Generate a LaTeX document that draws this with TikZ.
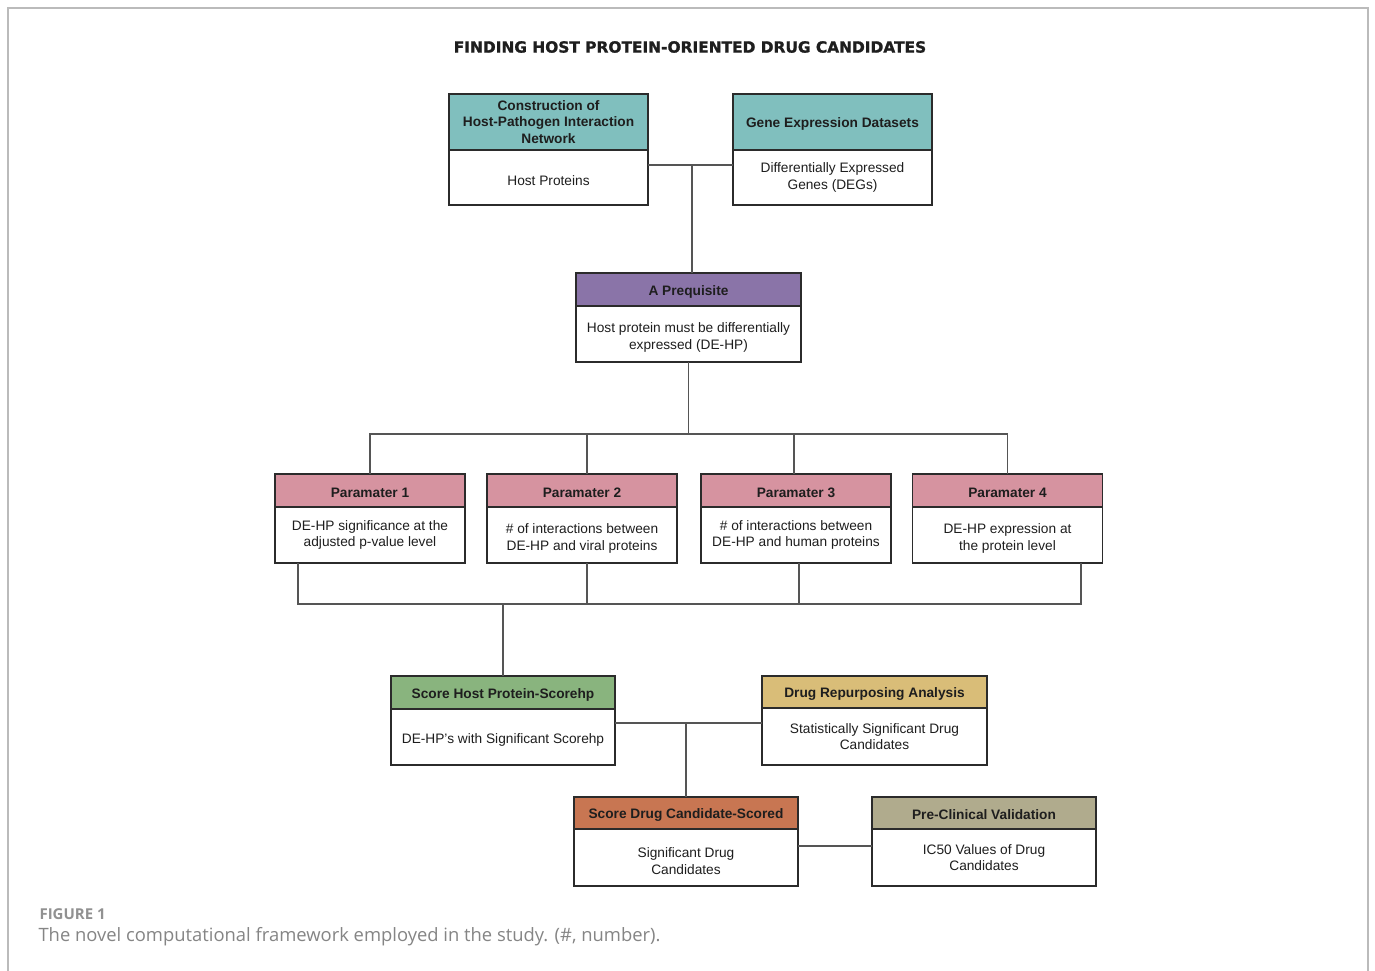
\documentclass[tikz,border=0pt]{standalone}
\usepackage{fontspec}
\setmainfont{Liberation Sans}
\newfontfamily\capfont{Open Sans}
\newfontfamily\titlefont[FakeBold=1.2]{DejaVu Sans}
\newcommand\liftline{\rule{0pt}{17pt}}
\definecolor{boxline}{HTML}{2B2B2B}
\definecolor{linegray}{HTML}{555555}
\definecolor{framegray}{HTML}{BBBBBB}
\definecolor{textdark}{HTML}{1E1E1E}
\definecolor{cteal}{HTML}{80BFBE}
\definecolor{cpurple}{HTML}{8A74A8}
\definecolor{cpink}{HTML}{D693A0}
\definecolor{cgreen}{HTML}{89B47E}
\definecolor{ctan}{HTML}{D9BD78}
\definecolor{corange}{HTML}{C87652}
\definecolor{ckhaki}{HTML}{B0AB8D}
\definecolor{capgray}{HTML}{858585}
\tikzset{
  hdr/.style={draw=boxline, line width=1.8pt, anchor=north, inner sep=2pt, outer sep=0pt, align=center,
    font=\fontsize{13.7}{16.5}\selectfont\bfseries, text=textdark,
    execute at begin node={\rule{0pt}{14pt}}},
  bdy/.style={draw=boxline, line width=1.8pt, anchor=north, inner sep=2pt, outer sep=0pt, align=center,
    font=\fontsize{13.7}{16.5}\selectfont, text=textdark, fill=white,
    execute at begin node={\rule{0pt}{16.5pt}}},
  conn/.style={draw=linegray, line width=1.1pt},
}
\begin{document}
\begin{tikzpicture}[x=1pt,y=-1pt]
\useasboundingbox (0,0) rectangle (1375,971);
\fill[white] (0,0) rectangle (1375,971);
\draw[framegray, line width=1.2pt] (8,971) -- (8,8) -- (1368,8) -- (1368,971);

\node[font=\titlefont\fontsize{15.4}{18}\selectfont\bfseries, text=textdark] (title) at (690,47) {FINDING HOST PROTEIN-ORIENTED DRUG CANDIDATES};

% top boxes
\node[hdr, fill=cteal, minimum width=199, minimum height=56] (c1h) at (548.5,94) {Construction of\\Host-Pathogen Interaction\\Network};
\node[bdy, minimum width=199, minimum height=55] (c1b) at (c1h.south) {Host Proteins};
\node[hdr, fill=cteal, minimum width=199, minimum height=56] (g1h) at (832.5,94) {Gene Expression Datasets};
\node[bdy, minimum width=199, minimum height=55] (g1b) at (g1h.south) {Differentially Expressed\\Genes (DEGs)};

% prerequisite
\node[hdr, fill=cpurple, minimum width=225, minimum height=33] (prh) at (688.5,273) {A Prequisite};
\node[bdy, minimum width=225, minimum height=56] (prb) at (prh.south) {\liftline Host protein must be differentially\\expressed (DE-HP)};

% parameters
\node[hdr, fill=cpink, minimum width=190, minimum height=33] (p1h) at (370,474) {Paramater 1};
\node[bdy, minimum width=190, minimum height=56] (p1b) at (p1h.south) {DE-HP significance at the\\adjusted p-value level};
\node[hdr, fill=cpink, minimum width=190, minimum height=33] (p2h) at (582,474) {Paramater 2};
\node[bdy, minimum width=190, minimum height=56] (p2b) at (p2h.south) {\liftline\# of interactions between\\DE-HP and viral proteins};
\node[hdr, fill=cpink, minimum width=190, minimum height=33] (p3h) at (796,474) {Paramater 3};
\node[bdy, minimum width=190, minimum height=56] (p3b) at (p3h.south) {\# of interactions between\\DE-HP and human proteins};
\node[hdr, fill=cpink, minimum width=190, minimum height=33] (p4h) at (1007.5,474) {Paramater 4};
\node[bdy, minimum width=190, minimum height=56] (p4b) at (p4h.south) {\liftline DE-HP expression at\\the protein level};

% score / drug
\node[hdr, fill=cgreen, minimum width=224, minimum height=33] (shh) at (503,676) {Score Host Protein-Scorehp};
\node[bdy, minimum width=224, minimum height=56] (shb) at (shh.south) {DE-HP's with Significant Scorehp};
\node[hdr, fill=ctan, minimum width=225, minimum height=32] (drh) at (874.5,676) {Drug Repurposing Analysis};
\node[bdy, minimum width=225, minimum height=57] (drb) at (drh.south) {Statistically Significant Drug\\Candidates};
\node[hdr, fill=corange, minimum width=224, minimum height=32] (sdh) at (686,797) {Score Drug Candidate-Scored};
\node[bdy, minimum width=224, minimum height=57] (sdb) at (sdh.south) {\liftline Significant Drug\\Candidates};
\node[hdr, fill=ckhaki, minimum width=224, minimum height=32] (pch) at (984,797) {Pre-Clinical Validation};
\node[bdy, minimum width=224, minimum height=57] (pcb) at (pch.south) {IC50 Values of Drug\\Candidates};

% connectors
\coordinate (j1) at (692,165);
\draw[conn] (c1b.east |- j1) -- (g1b.west |- j1);
\draw[conn] (j1) -- (j1 |- prh.north);

\coordinate (j2) at (689,434);
\draw[conn] (prb.south) -- (prb.south |- j2);
\draw[conn] (p1h.north) -- (p1h.north |- j2) -- (p4h.north |- j2) -- (p4h.north);
\draw[conn] (587,434) -- (587,474);
\draw[conn] (794,434) -- (794,474);

\coordinate (j3) at (503,604);
\draw[conn] (298,563) -- (298,604) -- (1081,604) -- (1081,563);
\draw[conn] (587,563) -- (587,604);
\draw[conn] (799,563) -- (799,604);
\draw[conn] (j3) -- (shh.north);

\coordinate (j4) at (686,723);
\draw[conn] (shb.east |- j4) -- (drb.west |- j4);
\draw[conn] (j4) -- (sdh.north);

\coordinate (j5) at (835,846);
\draw[conn] (sdb.east |- j5) -- (pcb.west |- j5);

% caption
\node[anchor=west, font=\capfont\fontsize{15}{17}\selectfont\bfseries, text=capgray!90] (figlab) at (36,914) {FIGURE 1};
\node[anchor=west, font=\capfont\fontsize{18.4}{21}\selectfont, text=capgray] (figcap) at (35,937) {The novel computational framework employed in the study. (\#, number).};
\end{tikzpicture}
\end{document}
